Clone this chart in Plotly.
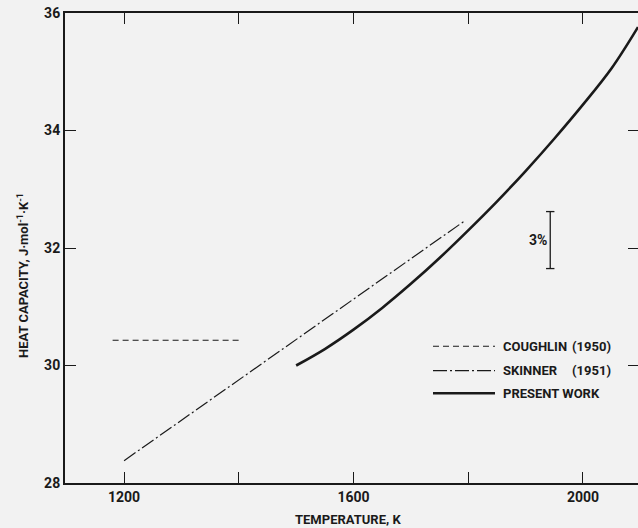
import plotly.graph_objects as go

# ---- data ----
coughlin_T = [1180, 1400]
coughlin_cp = [30.43, 30.43]

skinner_T = [1200, 1795]
skinner_cp = [28.38, 32.47]

present_T = [1500, 1550, 1600, 1650, 1700, 1750, 1800, 1850, 1900, 1950, 2000, 2050, 2096]
present_cp = [30.00, 30.28, 30.61, 30.98, 31.39, 31.83, 32.30, 32.79, 33.31, 33.86, 34.44, 35.06, 35.76]

bar_T = [1943, 1943]
bar_cp = [31.65, 32.62]

x_tickvals = [1200, 1600, 2000]
x_ticktext = ["1200", "1600", "2000"]
x_minor_tickvals = [1400, 1800]
y_tickvals = [28, 30, 32, 34, 36]
y_ticktext = ["28", "30", "32", "34", "36"]

legend_names = ["COUGHLIN", "SKINNER", "PRESENT WORK"]
legend_years = ["(1950)", "(1951)", ""]

FONT = "Roboto, Liberation Sans, sans-serif"
INK = "#1a1a1a"
BG = "#f2f2f2"

fig = go.Figure()
fig.add_trace(go.Scatter(x=coughlin_T, y=coughlin_cp, mode="lines",
                         line=dict(color=INK, width=1.2, dash="6px,4px"), showlegend=False))
fig.add_trace(go.Scatter(x=skinner_T, y=skinner_cp, mode="lines",
                         line=dict(color=INK, width=1.2, dash="14px,3px,2px,3px"), showlegend=False))
fig.add_trace(go.Scatter(x=present_T, y=present_cp, mode="lines", line_shape="spline",
                         line=dict(color=INK, width=2.6), showlegend=False))
fig.add_trace(go.Scatter(x=bar_T, y=bar_cp, mode="lines+markers",
                         line=dict(color=INK, width=1.3),
                         marker=dict(symbol="line-ew-open", size=6, line=dict(color=INK, width=1.3)),
                         showlegend=False))
# right-side ticks (no line)
fig.add_trace(go.Scatter(x=[None], y=[None], yaxis="y2", showlegend=False))

fig.add_annotation(x=bar_T[0], y=(bar_cp[0] + bar_cp[1]) / 2, text="3%", showarrow=False,
                   xanchor="right", yanchor="middle", xshift=-1,
                   font=dict(family=FONT, size=14, color=INK, weight="bold"))

# manual legend
leg_y = [0.291, 0.239, 0.191]
leg_dash = ["6px,4px", "14px,3px,2px,3px", "solid"]
leg_w = [1.2, 1.2, 2.6]
x0p, x1p = (433 - 65) / 573, (495 - 65) / 573
for i in range(3):
    fig.add_shape(type="line", xref="paper", yref="paper", x0=x0p, x1=x1p, y0=leg_y[i], y1=leg_y[i],
                  line=dict(color=INK, width=leg_w[i], dash=leg_dash[i]))
    fig.add_annotation(xref="paper", yref="paper", x=(501 - 65) / 573, y=leg_y[i], text=legend_names[i],
                       showarrow=False, xanchor="left", yanchor="middle",
                       font=dict(family=FONT, size=13, color=INK, weight="bold"))
    if legend_years[i]:
        fig.add_annotation(xref="paper", yref="paper", x=(613 - 65) / 573, y=leg_y[i], text=legend_years[i],
                           showarrow=False, xanchor="right", yanchor="middle",
                           font=dict(family=FONT, size=13, color=INK, weight="bold"))

# axis titles
fig.add_annotation(xref="paper", yref="paper", x=(348 - 65) / 573, y=(483 - 519) / 470,
                   text="TEMPERATURE, K", showarrow=False, xanchor="center", yanchor="middle",
                   font=dict(family=FONT, size=13, color=INK, weight="bold"))
fig.add_annotation(xref="paper", yref="paper", x=(23 - 65) / 573, y=(483 - 276) / 470,
                   text="HEAT CAPACITY, J·mol<sup>-1</sup>·K<sup>-1</sup>", textangle=-90,
                   showarrow=False, xanchor="center", yanchor="middle",
                   font=dict(family=FONT, size=13, color=INK, weight="bold"))

tickfont = dict(family=FONT, size=14, color=INK, weight="bold")
fig.update_layout(
    width=638, height=528,
    margin=dict(l=65, r=0, t=13, b=45),
    paper_bgcolor=BG, plot_bgcolor=BG,
    showlegend=False,
    xaxis=dict(range=[1097, 2096], tickvals=x_tickvals, ticktext=x_ticktext,
               ticks="inside", ticklen=11, tickwidth=1.3, tickcolor=INK,
               minor=dict(tickmode="array", tickvals=x_minor_tickvals, ticks="inside",
                          ticklen=11, tickwidth=1.3, tickcolor=INK, showgrid=False),
               showline=True, linewidth=2, linecolor=INK, mirror="ticks",
               showgrid=False, zeroline=False, tickfont=tickfont),
    yaxis=dict(range=[28, 36], tickvals=y_tickvals, ticktext=y_ticktext,
               ticks="inside", ticklen=11, tickwidth=1.3, tickcolor=INK,
               showline=True, linewidth=2, linecolor=INK,
               showgrid=False, zeroline=False, tickfont=tickfont),
    yaxis2=dict(range=[28, 36], overlaying="y", side="right", tickvals=y_tickvals,
                ticks="inside", ticklen=10, tickwidth=1.3, tickcolor=INK,
                showticklabels=False, showline=False, showgrid=False, zeroline=False),
)

fig.write_html("out.html", config={"displayModeBar": False},
               post_script="document.body.style.margin='0';document.body.style.background='%s';" % BG)
